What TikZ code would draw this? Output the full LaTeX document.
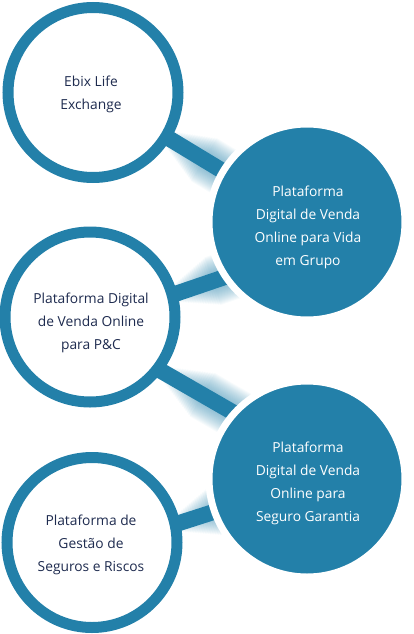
\documentclass[tikz,border=0pt]{standalone}
\usepackage{fontspec}
\setmainfont{Open Sans}
\usetikzlibrary{calc}
\definecolor{mainblue}{HTML}{2380A9}
\definecolor{navytext}{HTML}{1E2B4F}
\newcommand\glowbar[2]{%
  \foreach \k in {1,...,18}{%
    \pgfmathsetmacro\lw{16+1.9*\k}%
    \pgfmathsetmacro\st{88+2.3*\k}%
    \draw[mainblue, opacity=0.035, line width=\lw pt] ($(#1)!\st pt!(#2)$) -- (#2);
  }%
  \draw[bar] (#1) -- (#2);
}
\begin{document}
\begin{tikzpicture}[x=1pt,y=-1pt,
  bar/.style={mainblue, line width=16pt},
  hollow/.style={circle, draw=mainblue, line width=11pt, fill=white, minimum size=170pt, inner sep=0pt},
  filled/.style={circle, draw=white, line width=7pt, fill=mainblue, minimum size=196pt, inner sep=0pt},
  txt/.style={align=center, font=\fontsize{13.8}{23}\selectfont, inner sep=0pt},
  darktxt/.style={txt, text=navytext},
  whitetxt/.style={txt, text=white}]
\useasboundingbox (0,0) rectangle (413,634);
% centres
\coordinate (p1) at (93,92.5);
\coordinate (p2) at (307,222);
\coordinate (p3) at (90,317);
\coordinate (p4) at (307,479);
\coordinate (p5) at (92,542.5);
% connector end points
\coordinate (a1) at (93,92.5);
\coordinate (b1) at (307,222);
\coordinate (a2) at (90,323);
\coordinate (b2) at (307,249);
\coordinate (a3) at (90,330);
\coordinate (b3) at (307,455);
\coordinate (a4) at (92,551);
\coordinate (b4) at (307,482);
% connectors with glow
\glowbar{a1}{b1}
\glowbar{a2}{b2}
\glowbar{a3}{b3}
\glowbar{a4}{b4}
% circles
\node[hollow] (c1) at (p1) {};
\node[hollow] (c3) at (p3) {};
\node[hollow] (c5) at (p5) {};
\node[filled] (c2) at (p2) {};
\node[filled] (c4) at (p4) {};
% texts
\node[darktxt] (t1) at (91,94) {Ebix Life\\Exchange};
\node[whitetxt] (t2) at (308,227) {Plataforma\\Digital de Venda\\Online para Vida\\em Grupo};
\node[darktxt] (t3) at (91,323) {Plataforma Digital\\de Venda Online\\para P\&C};
\node[whitetxt] (t4) at (308,483) {Plataforma\\Digital de Venda\\Online para\\Seguro Garantia};
\node[darktxt] (t5) at (91,545) {Plataforma de\\Gestão de\\Seguros e Riscos};
\end{tikzpicture}
\end{document}
